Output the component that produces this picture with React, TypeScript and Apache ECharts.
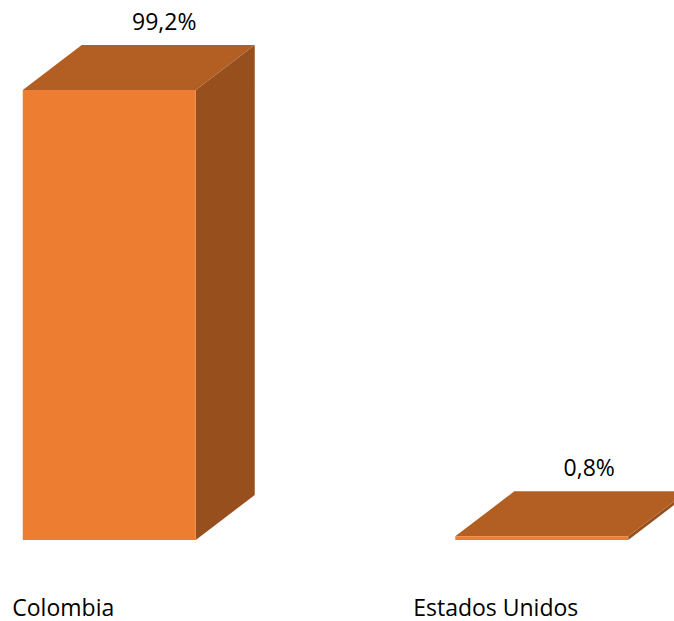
import React, { useEffect, useRef } from "react";
import * as echarts from "echarts";

const categories = ["Colombia", "Estados Unidos"];
const shareValues = [99.2, 0.8];
const valueLabels = ["99,2%", "0,8%"];

const FRONT = "#ED7D31";
const TOP = "#B35E23";
const SIDE = "#97501D";
const DEPTH_X = 59;
const DEPTH_Y = 45;
const BAR_RATIO = 0.4;
const LABEL_SHIFT_X = [55, 47.5];
const LABEL_SHIFT_Y = -69;
const FONT = "'Open Sans', sans-serif";

function renderBar(params: any, api: any) {
  const i = api.value(0);
  const base = api.coord([i, 0]);
  const head = api.coord([i, api.value(1)]);
  const w = api.size([1, 0])[0] * BAR_RATIO;
  const x0 = base[0] - w / 2;
  const x1 = base[0] + w / 2;
  const y0 = base[1];
  const y1 = head[1];
  return {
    type: "group",
    children: [
      {
        type: "polygon",
        shape: { points: [[x1, y1], [x1 + DEPTH_X, y1 - DEPTH_Y], [x1 + DEPTH_X, y0 - DEPTH_Y], [x1, y0]] },
        style: { fill: SIDE },
      },
      {
        type: "polygon",
        shape: { points: [[x0, y1], [x0 + DEPTH_X, y1 - DEPTH_Y], [x1 + DEPTH_X, y1 - DEPTH_Y], [x1, y1]] },
        style: { fill: TOP },
      },
      {
        type: "rect",
        shape: { x: x0, y: y1, width: w, height: y0 - y1 },
        style: { fill: FRONT },
      },
      {
        type: "text",
        x: base[0] + LABEL_SHIFT_X[i],
        y: y1 + LABEL_SHIFT_Y,
        style: {
          text: valueLabels[i],
          fill: "#000000",
          font: `23px ${FONT}`,
          align: "center",
          verticalAlign: "middle",
        },
      },
    ],
  };
}

export default function App() {
  const ref = useRef<HTMLDivElement>(null);
  useEffect(() => {
    document.body.style.margin = "0";
    const chart = echarts.init(ref.current!, undefined, { renderer: "svg" });
    chart.setOption({
      animation: false,
      backgroundColor: "#ffffff",
      grid: { left: -107, width: 865, top: 86.4, bottom: 81, outerBoundsMode: "none", containLabel: false },
      xAxis: {
        type: "category",
        data: categories,
        axisLine: { show: false },
        axisTick: { show: false },
        axisLabel: {
          color: "#000000",
          fontFamily: FONT,
          fontSize: 23,
          margin: 55,
          padding: [0, 92, 0, 0],
        },
      },
      yAxis: { type: "value", min: 0, max: 100, show: false },
      series: [
        {
          type: "custom",
          clip: false,
          renderItem: renderBar,
          encode: { x: 0, y: 1 },
          data: shareValues.map((v, i) => [i, v]),
        },
      ],
    });
    return () => chart.dispose();
  }, []);
  return <div ref={ref} style={{ width: 674, height: 621 }} />;
}
